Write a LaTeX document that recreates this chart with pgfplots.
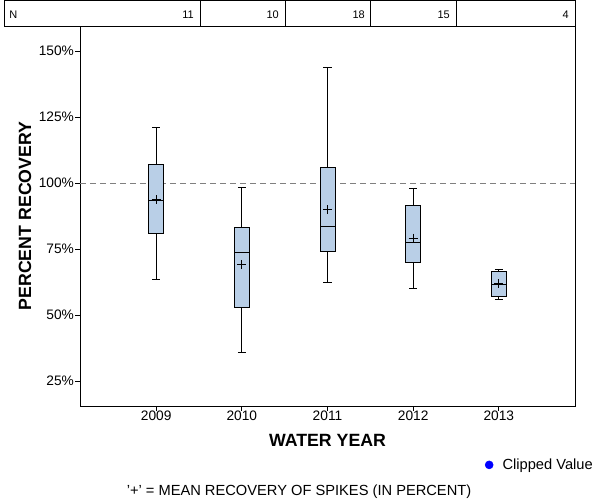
\documentclass[border=0pt]{standalone}
\usepackage{fontspec}
\setmainfont{Liberation Sans}
\usepackage{pgfplots}
\pgfplotsset{compat=1.18}
\definecolor{boxfill}{RGB}{185,207,231}
\newcommand\fs[1]{\fontsize{#1}{#1}\selectfont}
\begin{document}
\begin{tikzpicture}
\useasboundingbox (0,0) rectangle (450pt,375pt);
\begin{axis}[
  at={(60pt,70.5pt)}, anchor=south west,
  scale only axis, width=371.25pt, height=285pt,
  xmin=-0.89, xmax=4.89, ymin=15.5, ymax=159.5,
  xtick={0,1,2,3,4}, xticklabels={2009,2010,2011,2012,2013},
  ytick={25,50,75,100,125,150},
  yticklabel={\pgfmathprintnumber{\tick}\%},
  /pgf/number format/assume math mode=true,
  xtick pos=left, ytick pos=left, tick align=outside,
  major tick length=3.5pt,
  tick style={black, line width=0.6pt},
  axis line style={line width=0.6pt},
  tick label style={font=\fs{10.3pt}},
  yticklabel style={xshift=2.5pt},
  xticklabel style={yshift=3pt},
  xlabel={\bfseries WATER YEAR},
  ylabel={\bfseries PERCENT RECOVERY},
  every axis x label/.style={at={(axis description cs:0.5,-0.0895)}, anchor=center, font=\fs{13.3pt}},
  every axis y label/.style={at={(axis description cs:-0.111,0.5)}, anchor=center, rotate=90, font=\fs{13.3pt}},
  clip=false,
  unbounded coords=jump,
  legend style={draw=none, fill=none, font=\fs{11pt}, at={(axis description cs:0.818,-0.155)}, anchor=west, inner sep=0pt, row sep=0pt},
  legend cell align=left,
]
\addlegendimage{only marks, mark=*, mark size=3pt, blue}
\addlegendentry{\hspace{5pt}Clipped Value}
\addplot[gray, line width=0.6pt, dash pattern=on 4.5pt off 3pt] coordinates {(-0.89,100) (4.89,100)};
% 2009
\addplot[draw=black, fill=boxfill, line width=0.7pt] coordinates {(-0.0876,80.7) (0.0876,80.7) (0.0876,107.2) (-0.0876,107.2)} -- cycle;
\addplot[black, line width=0.7pt] coordinates {(-0.0876,93.2) (0.0876,93.2) (nan,nan) (0,107.2) (0,121.2) (nan,nan) (-0.047,121.2) (0.047,121.2) (nan,nan) (0,80.7) (0,63.3) (nan,nan) (-0.047,63.3) (0.047,63.3)};
% 2010
\addplot[draw=black, fill=boxfill, line width=0.7pt] coordinates {(0.9124,52.9) (1.0876,52.9) (1.0876,83.2) (0.9124,83.2)} -- cycle;
\addplot[black, line width=0.7pt] coordinates {(0.9124,73.7) (1.0876,73.7) (nan,nan) (1,83.2) (1,98.4) (nan,nan) (0.953,98.4) (1.047,98.4) (nan,nan) (1,52.9) (1,35.9) (nan,nan) (0.953,35.9) (1.047,35.9)};
% 2011
\addplot[draw=black, fill=boxfill, line width=0.7pt] coordinates {(1.9124,73.9) (2.0876,73.9) (2.0876,105.9) (1.9124,105.9)} -- cycle;
\addplot[black, line width=0.7pt] coordinates {(1.9124,83.7) (2.0876,83.7) (nan,nan) (2,105.9) (2,143.8) (nan,nan) (1.953,143.8) (2.047,143.8) (nan,nan) (2,73.9) (2,62.4) (nan,nan) (1.953,62.4) (2.047,62.4)};
% 2012
\addplot[draw=black, fill=boxfill, line width=0.7pt] coordinates {(2.9124,70.0) (3.0876,70.0) (3.0876,91.6) (2.9124,91.6)} -- cycle;
\addplot[black, line width=0.7pt] coordinates {(2.9124,77.5) (3.0876,77.5) (nan,nan) (3,91.6) (3,98.0) (nan,nan) (2.953,98.0) (3.047,98.0) (nan,nan) (3,70.0) (3,60.1) (nan,nan) (2.953,60.1) (3.047,60.1)};
% 2013
\addplot[draw=black, fill=boxfill, line width=0.7pt] coordinates {(3.9124,56.9) (4.0876,56.9) (4.0876,66.6) (3.9124,66.6)} -- cycle;
\addplot[black, line width=0.7pt] coordinates {(3.9124,61.7) (4.0876,61.7) (nan,nan) (4,66.6) (4,67.3) (nan,nan) (3.953,67.3) (4.047,67.3) (nan,nan) (4,56.9) (4,56.0) (nan,nan) (3.953,56.0) (4.047,56.0)};
% means
\addplot[only marks, mark=+, mark size=3.4pt, mark options={black, line width=0.7pt}] coordinates {(0,93.6) (1,69.2) (2,89.8) (3,79.1) (4,61.9)};
\end{axis}
% N table
\begin{scope}[x=0.75pt,y=0.75pt]
\draw[line width=0.6pt] (4,474) rectangle (575,499.5);
\foreach \xx in {200,285,370,456} \draw[line width=0.6pt] (\xx,474) -- (\xx,499.5);
\node[anchor=west, font=\fs{8.25pt}, inner sep=0pt] at (9,485.5) {N};
\foreach \xx/\nn in {194/11,279/10,365/18,450/15,569/4}
  \node[anchor=east, font=\fs{8.25pt}, inner sep=0pt] at (\xx,485.5) {\nn};
\node[font=\fs{11pt}, inner sep=0pt] at (299,8) {'+' = MEAN RECOVERY OF SPIKES (IN PERCENT)};
\end{scope}
\end{tikzpicture}
\end{document}
